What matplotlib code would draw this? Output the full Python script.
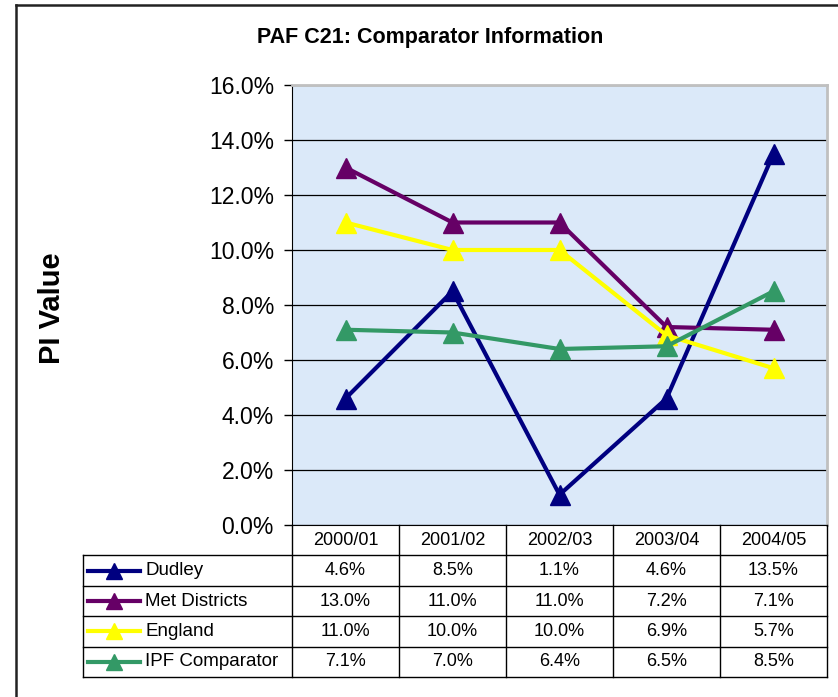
import matplotlib.pyplot as plt
import numpy as np

plt.rcParams['font.family'] = ['Liberation Sans', 'DejaVu Sans']

years = ["2000/01", "2001/02", "2002/03", "2003/04", "2004/05"]
series_names = ["Dudley", "Met Districts", "England", "IPF Comparator"]
dudley = [4.6, 8.5, 1.1, 4.6, 13.5]
met_districts = [13.0, 11.0, 11.0, 7.2, 7.1]
england = [11.0, 10.0, 10.0, 6.9, 5.7]
ipf_comparator = [7.1, 7.0, 6.4, 6.5, 8.5]
colors = ["#000080", "#660066", "#FFFF00", "#339966"]
yticks = np.arange(0, 17, 2)

all_series = [dudley, met_districts, england, ipf_comparator]

W, H = 838, 697
fig = plt.figure(figsize=(W / 100, H / 100), dpi=100)

# outer frame (left and top visible)
fig.add_artist(plt.Line2D([16 / W, 16 / W], [0, 1 - 5 / H], color="#222222", lw=1.8))
fig.add_artist(plt.Line2D([16 / W, 1], [1 - 5 / H, 1 - 5 / H], color="#222222", lw=1.8))

# main plot area
ax = fig.add_axes([292 / W, 1 - 525 / H, (827 - 292) / W, (525 - 85) / H])
ax.set_facecolor("#dbe9f9")
x = np.arange(len(years))
for vals, c in zip(all_series, colors):
    ax.plot(x, vals, color=c, lw=3, marker="^", markersize=14, zorder=3)
ax.set_xlim(-0.5, 4.5)
ax.set_ylim(0, 16)
ax.set_yticks(yticks)
ax.set_yticklabels([f"{v:.1f}%" for v in yticks], fontsize=16.5)
ax.set_xticks([])
ax.yaxis.grid(True, color="black", lw=0.9)
ax.set_axisbelow(True)
ax.tick_params(axis="y", direction="out", length=6, width=1, pad=7)
ax.spines["left"].set_color("black")
ax.spines["bottom"].set_color("black")
ax.spines["top"].set_color("#c0c0c0")
ax.spines["right"].set_color("#c0c0c0")
ax.spines["top"].set_linewidth(2)
ax.spines["right"].set_linewidth(2)

fig.text(430 / W, 1 - 38 / H, "PAF C21: Comparator Information",
         ha="center", va="center", fontsize=15.5, fontweight="bold")
fig.text(52 / W, 1 - 308 / H, "PI Value", rotation=90,
         ha="center", va="center", fontsize=21, fontweight="bold")

# data table below the plot
leg_w = 209 / 107
tab = fig.add_axes([83 / W, 1 - 677 / H, (827 - 83) / W, (677 - 525) / H])
tab.set_xlim(-0.5 - leg_w, 4.5)
tab.set_ylim(5, 0)
tab.axis("off")
lc = "black"
# horizontal lines
for r in range(1, 6):
    tab.plot([-0.5 - leg_w, 4.5], [r, r], color=lc, lw=1, clip_on=False)
# vertical lines
tab.plot([-0.5 - leg_w] * 2, [1, 5], color=lc, lw=1, clip_on=False)
for cx in np.arange(-0.5, 5.0, 1.0):
    tab.plot([cx, cx], [0, 5], color=lc, lw=1, clip_on=False)

for i, yr in enumerate(years):
    tab.text(i, 0.5, yr, ha="center", va="center", fontsize=13)
for r, (name, vals, c) in enumerate(zip(series_names, all_series, colors)):
    yy = r + 1.5
    x0 = -0.5 - leg_w
    tab.plot([x0 + 0.05, x0 + 0.53], [yy, yy], color=c, lw=3, clip_on=False)
    tab.plot([x0 + 0.29], [yy], color=c, marker="^", markersize=11, clip_on=False)
    tab.text(x0 + 0.58, yy, name, ha="left", va="center", fontsize=13.5)
    for i, v in enumerate(vals):
        tab.text(i, yy, f"{v:.1f}%", ha="center", va="center", fontsize=13)

fig.savefig("out.png", dpi=100)
